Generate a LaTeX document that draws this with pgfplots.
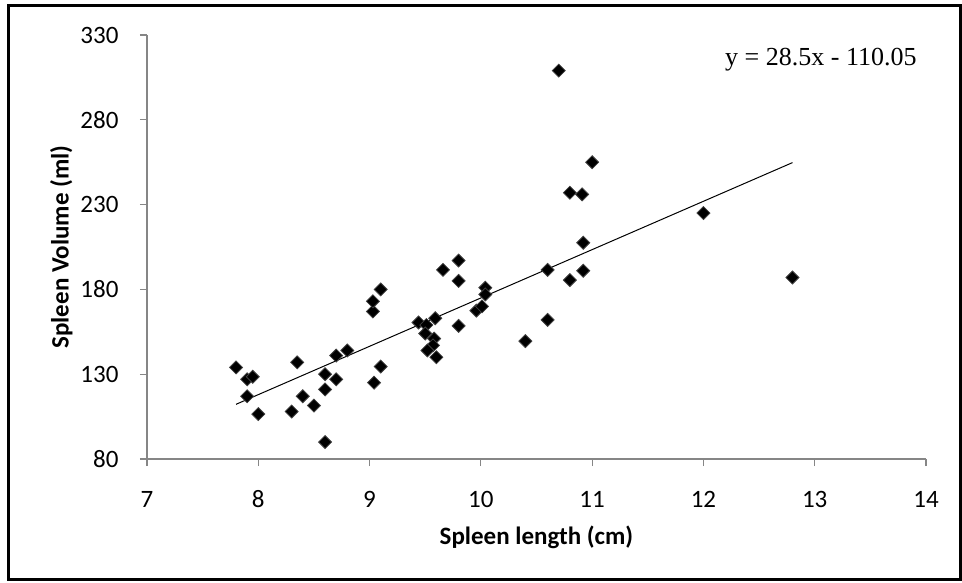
\documentclass[border=0pt]{standalone}
\usepackage{pgfplots}
\pgfplotsset{compat=1.18}
\usepackage{fontspec}
\setmainfont{Carlito}
\newfontfamily\tnr{Liberation Serif}
\definecolor{axgray}{RGB}{134,134,134}
\begin{document}
\fontsize{25}{30}\selectfont
\begin{tikzpicture}[x=1pt,y=1pt]
\useasboundingbox (0,0) rectangle (962,582);
\draw[black, line width=3pt] (8.5,3) rectangle (960.5,576);
\begin{axis}[
  at={(147pt,123pt)}, anchor=south west,
  scale only axis, width=779pt, height=424pt,
  xmin=7, xmax=14, ymin=80, ymax=330,
  xtick={7,8,...,14}, ytick={80,130,180,230,280,330},
  axis x line=bottom, axis y line=left,
  axis line style={axgray, line width=1.2pt, -},
  tick style={axgray, line width=1.2pt},
  tick align=outside, major tick length=7pt,
  /pgf/number format/assume math mode=true,
  ticklabel style={font=\fontsize{25}{30}\selectfont},
  xticklabel style={anchor=base, yshift=-41pt},
  yticklabel style={xshift=-13pt},
  xlabel={\bfseries Spleen length (cm)},
  ylabel={\bfseries Spleen Volume (ml)},
  xlabel style={at={(axis description cs:0.5,-0.184)}, anchor=center, font=\fontsize{25}{30}\selectfont},
  ylabel style={at={(axis description cs:-0.110,0.5)}, anchor=center, font=\fontsize{25}{30}\selectfont},
  clip=false,
]
\addplot[only marks, mark=square*, mark size=4.6pt,
  mark options={rotate=45, fill=black, draw=black!75, line width=0.8pt}]
coordinates {
(7.8,134) (7.9,127) (7.95,128.5) (7.9,117) (8.0,106.5)
(8.35,137) (8.3,108) (8.4,117) (8.5,111.5) (8.6,90)
(8.6,121) (8.6,130) (8.7,127) (8.7,141) (8.8,144)
(9.03,167) (9.03,173) (9.1,180) (9.04,125) (9.1,134.5)
(9.44,160.5) (9.59,163) (9.51,159) (9.5,154) (9.58,151)
(9.57,147) (9.52,144) (9.6,140) (9.66,191.5) (9.8,197)
(9.8,185) (10.04,181) (10.04,177) (9.96,167.5) (10.01,170)
(9.8,158.5) (10.4,149.5) (10.6,162) (10.6,191.5) (10.7,309)
(10.8,237) (10.91,236) (11.0,255) (10.92,207.5) (10.92,191)
(10.8,185.5) (12.0,225) (12.8,187)
};
\addplot[black, line width=1pt] coordinates {(7.8,112.25) (12.8,254.75)};
\node[anchor=base west, inner sep=0pt, font=\tnr\fontsize{26}{30}\selectfont]
  at (rel axis cs:0.742,0.929) {y = 28.5x - 110.05};
\end{axis}
\end{tikzpicture}
\end{document}
